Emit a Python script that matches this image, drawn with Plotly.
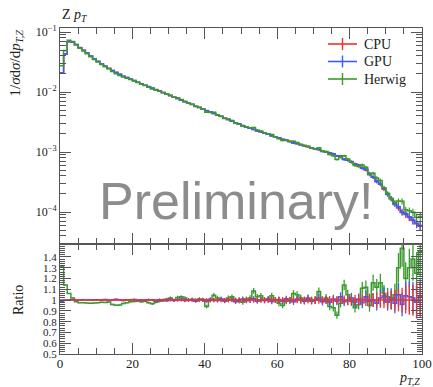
import numpy as np
import plotly.graph_objects as go

# ---------------- data ----------------
bin_edges = list(range(0, 101))  # 1 GeV bins from 0 to 100

cpu = [0.021, 0.043, 0.069, 0.068, 0.0617, 0.055, 0.0495, 0.0447, 0.0398, 0.0359,
       0.0324, 0.0292, 0.0269, 0.0248, 0.0229, 0.0211, 0.0197, 0.0184, 0.0174, 0.0164,
       0.0155, 0.0146, 0.0138, 0.0130, 0.0123, 0.0116, 0.0110, 0.0104, 0.0098, 0.0092,
       0.0087, 0.0082, 0.0078, 0.0073, 0.0069, 0.0065, 0.0062, 0.0058, 0.0055, 0.0052,
       0.0049, 0.0046, 0.0044, 0.0041, 0.0039, 0.00367, 0.00347, 0.00327, 0.00309, 0.00292,
       0.00275, 0.0026, 0.00248, 0.00237, 0.00226, 0.00216, 0.00207, 0.00197, 0.00188, 0.0018,
       0.00172, 0.00164, 0.00157, 0.0015, 0.00143, 0.00137, 0.00132, 0.00128, 0.00122, 0.00117,
       0.00113, 0.00109, 0.00104, 0.00100, 0.00097, 0.00093, 0.00087, 0.00084, 0.00076, 0.00073,
       0.00068, 0.00064, 0.0006, 0.00055, 0.0005, 0.00044, 0.00038, 0.00033, 0.00029, 0.00024,
       0.0002, 0.000166, 0.000138, 0.000117, 0.000102, 0.000091, 0.000081, 0.000072, 0.000065, 0.000058]

gpu_ratio = [0.99, 1.0, 1.0, 1.005, 1.0, 0.998, 1.002, 1.0, 1.004, 0.998,
             1.003, 1.0, 1.006, 0.997, 1.0, 1.008, 1.002, 0.996, 1.0, 1.004,
             1.006, 0.995, 1.0, 0.997, 1.004, 1.002, 0.99, 1.003, 1.0, 0.994,
             1.008, 0.996, 1.003, 1.01, 0.995, 1.0, 1.006, 0.99, 1.002, 1.005,
             0.992, 1.008, 1.0, 0.996, 1.01, 0.99, 1.0, 1.006, 0.985, 1.004,
             1.01, 0.993, 1.0, 1.012, 0.99, 1.004, 0.995, 1.01, 0.988, 1.0,
             1.006, 0.99, 1.012, 0.995, 0.985, 1.01, 1.0, 0.99, 1.015, 0.995,
             1.0, 1.02, 0.985, 1.005, 0.98, 1.01, 0.99, 1.03, 0.985, 0.995,
             1.02, 0.98, 1.01, 0.975, 1.03, 0.99, 1.0, 0.97, 1.02, 1.04,
             0.98, 1.02, 0.97, 1.05, 0.96, 1.04, 1.03, 1.02, 0.98, 1.03]

herwig_ratio = [1.31, 1.14, 1.06, 1.02, 0.985, 0.975, 0.975, 0.972, 0.97, 0.972,
                0.975, 0.98, 0.978, 0.982, 0.96, 0.952, 0.955, 0.968, 0.975, 0.985,
                0.988, 0.99, 0.985, 0.99, 0.975, 0.965, 0.98, 0.99, 0.995, 1.01,
                1.02, 1.0, 1.025, 1.03, 1.02, 1.0, 1.005, 0.995, 1.01, 1.0,
                0.94, 0.995, 1.045, 1.02, 1.01, 1.0, 1.02, 1.03, 1.0, 0.99,
                0.98, 1.01, 1.02, 1.085, 1.03, 1.04, 1.0, 1.01, 1.04, 1.0,
                0.97, 0.95, 0.99, 1.0, 1.06, 1.05, 1.02, 1.0, 1.02, 0.99,
                1.0, 1.08, 1.0, 1.02, 0.94, 0.93, 0.86, 0.97, 1.14, 1.05,
                0.99, 0.93, 0.96, 1.11, 1.12, 0.95, 1.16, 1.12, 1.16, 1.06,
                1.03, 1.0, 1.05, 1.3, 1.48, 1.2, 1.3, 1.38, 1.25, 1.45]

rel_err = [0.004, 0.003, 0.003, 0.003, 0.003, 0.004, 0.004, 0.004, 0.005, 0.005,
           0.005, 0.006, 0.006, 0.006, 0.007, 0.007, 0.007, 0.008, 0.008, 0.008,
           0.009, 0.009, 0.01, 0.01, 0.01, 0.011, 0.011, 0.012, 0.012, 0.012,
           0.013, 0.013, 0.014, 0.014, 0.015, 0.015, 0.016, 0.016, 0.017, 0.017,
           0.018, 0.018, 0.019, 0.019, 0.02, 0.02, 0.021, 0.021, 0.022, 0.022,
           0.023, 0.023, 0.024, 0.024, 0.025, 0.025, 0.026, 0.026, 0.027, 0.027,
           0.028, 0.028, 0.029, 0.029, 0.03, 0.03, 0.031, 0.031, 0.032, 0.032,
           0.033, 0.034, 0.035, 0.036, 0.037, 0.038, 0.039, 0.04, 0.042, 0.044,
           0.046, 0.048, 0.05, 0.053, 0.056, 0.06, 0.064, 0.068, 0.072, 0.076,
           0.08, 0.088, 0.096, 0.105, 0.115, 0.125, 0.135, 0.145, 0.155, 0.165]

series_names = ["CPU", "GPU", "Herwig"]
colors = {"CPU": "#f0302a", "GPU": "#3a5cff", "Herwig": "#3a9a2e"}

# ---------------- derived ----------------
cpu = np.array(cpu)
gpu_ratio = np.array(gpu_ratio)
herwig_ratio = np.array(herwig_ratio)
rel_err = np.array(rel_err)
edges = np.array(bin_edges, dtype=float)
centers = 0.5 * (edges[:-1] + edges[1:])

values = {"CPU": cpu, "GPU": cpu * gpu_ratio, "Herwig": cpu * herwig_ratio}
ratios = {"CPU": np.ones_like(cpu), "GPU": gpu_ratio, "Herwig": herwig_ratio}

SERIF = "Liberation Serif, DejaVu Serif, serif"
TXT = "#222222"
fig = go.Figure()

def step_y(v):
    return list(v) + [v[-1]]

# main panel
for name in series_names:
    v = values[name]
    c = colors[name]
    fig.add_trace(go.Scatter(x=edges, y=step_y(v), mode="lines", line=dict(color=c, width=1.5, shape="hv"),
                             xaxis="x", yaxis="y", showlegend=False, hoverinfo="skip"))
    fig.add_trace(go.Scatter(x=centers, y=v, mode="markers", marker=dict(size=0.1, color=c, opacity=0),
                             error_y=dict(type="data", array=v * rel_err, color=c, thickness=1.2, width=0),
                             xaxis="x", yaxis="y", showlegend=False, hoverinfo="skip"))

# ratio panel (reference drawn last)
for name in ["Herwig", "GPU", "CPU"]:
    r = ratios[name]
    c = colors[name]
    fig.add_trace(go.Scatter(x=centers, y=r, mode="markers", marker=dict(size=0.1, color=c, opacity=0),
                             error_y=dict(type="data", array=r * rel_err, color=c, thickness=1.3, width=0),
                             xaxis="x2", yaxis="y2", showlegend=False, hoverinfo="skip"))
    fig.add_trace(go.Scatter(x=edges, y=step_y(r), mode="lines", line=dict(color=c, width=1.5, shape="hv"),
                             xaxis="x2", yaxis="y2", showlegend=False, hoverinfo="skip"))

# ---------------- layout helpers (pixel -> paper) ----------------
L, R, T, B, W, H = 60, 11, 28, 33, 433, 387
PW, PH = W - L - R, H - T - B
def px(xa):
    return (xa - L) / PW
def py(ya):
    return (H - B - ya) / PH

AX = "#555555"
main_minor = [k * 10.0 ** d for d in range(-5, 0) for k in range(2, 10)]
common_x = dict(range=[0, 100], showline=True, linecolor=AX, linewidth=1, mirror="ticks",
                ticks="inside", ticklen=11, tickcolor=AX, tickvals=[0, 20, 40, 60, 80, 100],
                minor=dict(ticks="inside", ticklen=6, tickcolor=AX, dtick=5, tick0=0),
                showgrid=False, zeroline=False, automargin=False)

# manual legend (line + cross sample, text)
shapes = []
annotations = []
for i, name in enumerate(series_names):
    ya = 44 + 17.5 * i
    c = colors[name]
    shapes.append(dict(type="line", xref="paper", yref="paper", x0=px(328), x1=px(357),
                       y0=py(ya), y1=py(ya), line=dict(color=c, width=1.6)))
    shapes.append(dict(type="line", xref="paper", yref="paper", x0=px(342.5), x1=px(342.5),
                       y0=py(ya - 6), y1=py(ya + 6), line=dict(color=c, width=1.4)))
    annotations.append(dict(text=name, x=px(362), y=py(ya), xref="paper", yref="paper",
                            xanchor="left", yanchor="middle", showarrow=False,
                            font=dict(family=SERIF, size=14, color=TXT)))

annotations += [
    dict(text="Z <i>p</i><sub><i>T</i></sub>", x=0, y=1.0, xref="paper", yref="paper",
         xanchor="left", yanchor="bottom", yshift=2, showarrow=False,
         font=dict(family=SERIF, size=14, color=TXT)),
    dict(text="1/<i>σ</i>d<i>σ</i>/d<i>p</i><sub><i>T,Z</i></sub>", x=px(15), y=1.0,
         xref="paper", yref="paper", xanchor="center", yanchor="top", textangle=-90,
         showarrow=False, font=dict(family=SERIF, size=15, color=TXT)),
    dict(text="Ratio", x=px(18), y=py(300), xref="paper", yref="paper", xanchor="center",
         yanchor="middle", textangle=-90, showarrow=False,
         font=dict(family=SERIF, size=14, color=TXT)),
    dict(text="<i>p</i><sub><i>T,Z</i></sub>", x=1.0, y=0, xref="paper", yref="paper",
         xanchor="right", yanchor="top", yshift=-14, showarrow=False,
         font=dict(family=SERIF, size=14, color=TXT)),
    dict(text="Preliminary!", x=0.487, y=0.47, xref="paper", yref="paper", xanchor="center",
         yanchor="middle", showarrow=False,
         font=dict(family="Liberation Sans, Arial, sans-serif", size=52, color="rgba(120,120,120,0.85)")),
]

fig.update_layout(
    width=W, height=H,
    margin=dict(l=L, r=R, t=T, b=B, autoexpand=False),
    paper_bgcolor="white", plot_bgcolor="white",
    font=dict(family=SERIF, size=12, color=TXT),
    showlegend=False,
    xaxis=dict(**common_x, anchor="y", showticklabels=False),
    yaxis=dict(type="log", domain=[0.3374, 1.0], range=[-4.533, -0.933], anchor="x",
               showline=True, linecolor=AX, linewidth=1, mirror="ticks",
               ticks="inside", ticklen=11, tickcolor=AX,
               tickvals=[1e-4, 1e-3, 1e-2, 1e-1],
               ticktext=["10<sup>−4</sup>", "10<sup>−3</sup>", "10<sup>−2</sup>", "10<sup>−1</sup>"],
               minor=dict(ticks="inside", ticklen=6, tickcolor=AX, tickvals=main_minor),
               showgrid=False, zeroline=False, tickfont=dict(size=12), automargin=False),
    xaxis2=dict(**common_x, anchor="y2", showticklabels=True, tickfont=dict(size=13),
                ticklabelstandoff=-3),
    yaxis2=dict(domain=[0.0, 0.3374], range=[0.5, 1.52], anchor="x2",
                showline=True, linecolor=AX, linewidth=1, mirror="ticks",
                ticks="inside", ticklen=11, tickcolor=AX,
                tickvals=[0.5, 0.6, 0.7, 0.8, 0.9, 1.0, 1.1, 1.2, 1.3, 1.4],
                ticktext=["0.5", "0.6", "0.7", "0.8", "0.9", "1", "1.1", "1.2", "1.3", "1.4"],
                minor=dict(ticks="inside", ticklen=5, tickcolor=AX, dtick=0.02, tick0=0.5),
                showgrid=False, zeroline=False, tickfont=dict(size=11), automargin=False),
    shapes=shapes,
    annotations=annotations,
)

fig.write_html("out.html")
